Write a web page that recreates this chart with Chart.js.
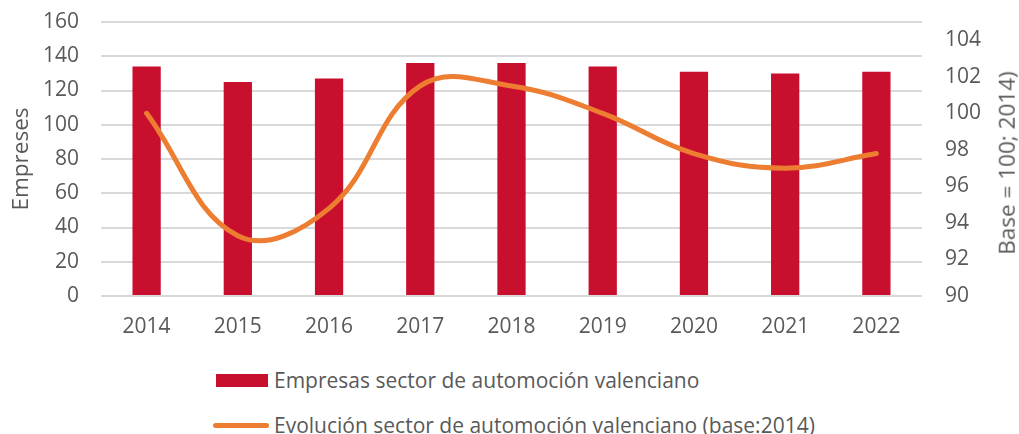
<!DOCTYPE html>
<html>
<head>
<meta charset="utf-8">
<script src="https://cdn.jsdelivr.net/npm/chart.js@4"></script>
<style>
  body { margin: 0; background: #fff; }
  #wrap { position: relative; width: 1019px; height: 434px; font-family: "Open Sans", sans-serif; color: #595959; }
  #chartBox { position: absolute; left: 0; top: 0; width: 1019px; height: 345px; }
  #rightTitle { position: absolute; left: 1007px; top: 163px; transform: translate(-50%, -50%) rotate(-90deg); white-space: nowrap; font-size: 22.5px; line-height: 1; }
  .leg { position: absolute; left: 213px; font-size: 21px; white-space: nowrap; display: flex; align-items: center; height: 24px; }
  .leg .box { display: inline-block; width: 52px; height: 13px; background: #C8102E; margin-left: 3px; margin-right: 6px; }
  .leg .ln { display: inline-block; width: 56px; height: 5px; border-radius: 3px; background: #ED7D31; margin-right: 5px; }
</style>
</head>
<body>
<div id="wrap">
  <div id="chartBox"><canvas id="chart"></canvas></div>
  <div id="rightTitle">Base = 100; 2014)</div>
  <div class="leg" id="leg1" style="top: 368px;"><span class="box"></span><span>Empresas sector de automoción valenciano</span></div>
  <div class="leg" id="leg2" style="top: 413px;"><span class="ln"></span><span>Evolución sector de automoción valenciano (base:2014)</span></div>
</div>
<script>
document.addEventListener("DOMContentLoaded", () => {
    // ----------------- Data -----------------
    const years = ['2014', '2015', '2016', '2017', '2018', '2019', '2020', '2021', '2022'];
    const empresas = [134, 125, 127, 136, 136, 134, 131, 130, 131];
    const evolucion = [100, 93.3, 94.8, 101.5, 101.5, 100, 97.8, 97.0, 97.8];
    const leftTicks = [0, 20, 40, 60, 80, 100, 120, 140, 160];
    const rightTicks = [90, 92, 94, 96, 98, 100, 102, 104];

    const tickFont = { family: 'Open Sans', size: 21 };
    const textColor = '#595959';

    // fixed axis sizes so the plot area lands where the original one is
    function fixWidth(w) {
        return (s) => {
            s.width = w;
            s.paddingTop = 0;
            s.paddingBottom = 0;
        };
    }

    new Chart(document.getElementById('chart').getContext('2d'), {
        data: {
            labels: years,
            datasets: [{
                type: 'line',
                label: 'Evolución sector de automoción valenciano (base:2014)',
                data: evolucion,
                yAxisID: 'y1',
                borderColor: '#ED7D31',
                borderWidth: 5,
                borderCapStyle: 'round',
                tension: 0.4,
                pointRadius: 0,
                fill: false
            }, {
                type: 'bar',
                label: 'Empresas sector de automoción valenciano',
                data: empresas,
                yAxisID: 'y',
                backgroundColor: '#C8102E',
                barPercentage: 0.31,
                categoryPercentage: 1
            }]
        },
        options: {
            responsive: true,
            maintainAspectRatio: false,
            animation: false,
            layout: { padding: { top: 22, left: 0, right: 0, bottom: 0 } },
            plugins: {
                legend: { display: false },
                tooltip: { enabled: false }
            },
            scales: {
                x: {
                    grid: { display: false, drawTicks: false },
                    border: { display: false },
                    ticks: { font: tickFont, color: textColor, padding: 18 },
                    afterFit: (s) => { s.height = 49; }
                },
                y: {
                    position: 'left',
                    min: 0, max: 160,
                    afterBuildTicks: (s) => { s.ticks = leftTicks.map(v => ({ value: v })); },
                    grid: { color: '#d9d9d9', lineWidth: 2, drawTicks: false },
                    border: { display: false },
                    ticks: { font: tickFont, color: textColor, padding: 22 },
                    title: { display: true, text: 'Empreses', font: { family: 'Open Sans', size: 22.5 }, color: textColor, padding: { top: 8, bottom: 0 } },
                    afterFit: fixWidth(101)
                },
                y1: {
                    position: 'right',
                    min: 90, max: 105,
                    afterBuildTicks: (s) => { s.ticks = rightTicks.map(v => ({ value: v })); },
                    grid: { display: false, drawTicks: false },
                    border: { display: false },
                    ticks: { font: tickFont, color: textColor, padding: 23 },
                    afterFit: fixWidth(97)
                }
            }
        }
    });
});
</script>
</body>
</html>
